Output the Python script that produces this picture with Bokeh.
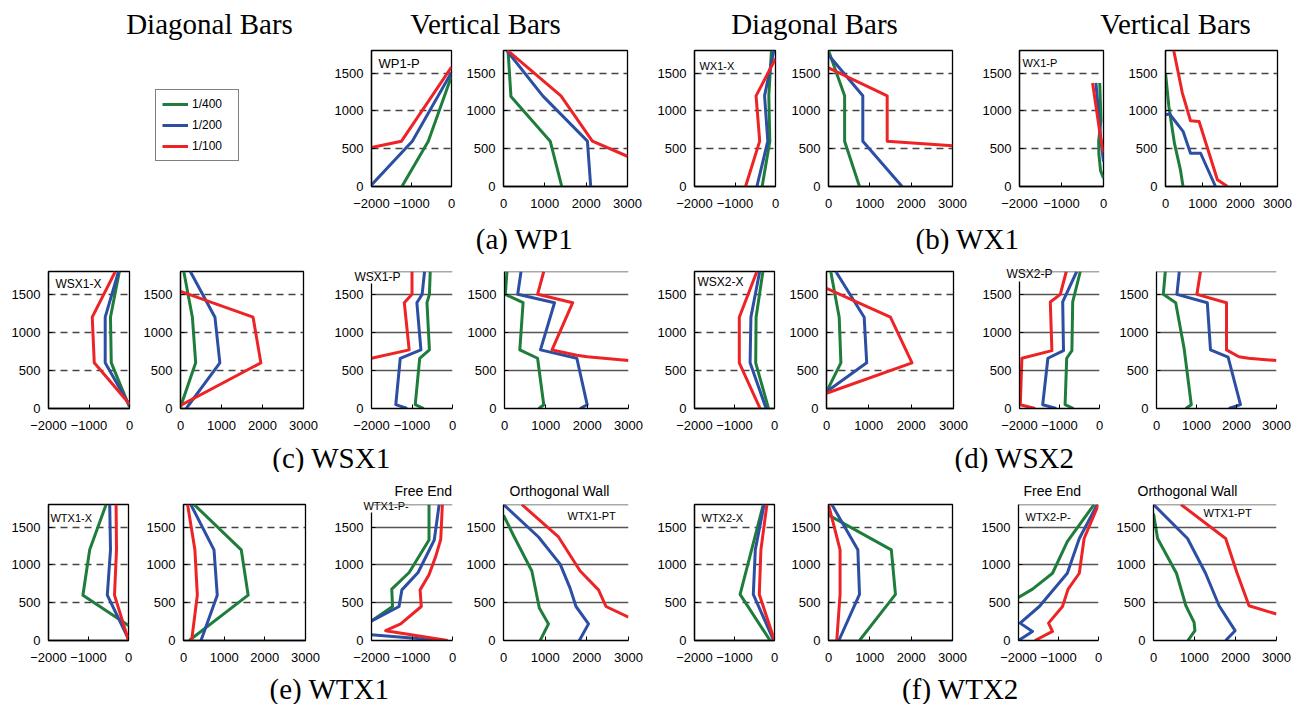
from bokeh.plotting import figure
from bokeh.layouts import row, column
from bokeh.models import Range1d, FixedTicker, Label, Span, Legend, LegendItem
from bokeh.embed import file_html
from bokeh.resources import INLINE

# ---------------- data (x value, height) ----------------
SERIES = ["1/400", "1/200", "1/100"]
DIAG_TICKS = [-2000, -1000, 0]
VERT_TICKS = [0, 1000, 2000, 3000]
HEIGHT_TICKS = [0, 500, 1000, 1500]
GRID_LEVELS = [500, 1000, 1500]

# (a) WP1
WP1_P_400 = [(-1240, 0), (-580, 600), (0, 1460)]
WP1_P_200 = [(-2000, 20), (-980, 600), (0, 1510)]
WP1_P_100 = [(-2000, 515), (-1250, 600), (0, 1580)]
WP1_V_400 = [(1410, 0), (1130, 600), (180, 1190), (110, 1800)]
WP1_V_200 = [(2110, 0), (2030, 600), (950, 1200), (80, 1800)]
WP1_V_100 = [(3000, 400), (2150, 600), (1390, 1200), (100, 1800)]
# (b) WX1
WX1_X_400 = [(-330, 0), (-140, 600), (-165, 1200), (-100, 1800)]
WX1_X_200 = [(-460, 0), (-190, 600), (-270, 1200), (-40, 1800)]
WX1_X_100 = [(-740, 0), (-390, 600), (-480, 1200), (0, 1690)]
WX1_V_400 = [(750, 0), (390, 600), (390, 1200), (0, 1800)]
WX1_V_200 = [(1780, 0), (830, 600), (830, 1200), (0, 1740)]
WX1_V_100 = [(3000, 540), (1420, 600), (1420, 1200), (0, 1570)]
WX1_P_400 = [(0, 110), (-70, 210), (-110, 430), (-115, 600), (-60, 880), (-90, 1370)]
WX1_P_200 = [(0, 330), (-60, 600), (-180, 1370)]
WX1_P_100 = [(0, 450), (-70, 650), (-260, 1370)]
WX1_PV_400 = [(470, 0), (400, 220), (240, 570), (90, 1060), (0, 1500)]
WX1_PV_200 = [(1340, 0), (940, 440), (670, 440), (470, 730), (110, 960), (0, 950)]
WX1_PV_100 = [(1660, 0), (1390, 90), (900, 860), (670, 870), (450, 1240), (220, 1800)]
# (c) WSX1
WSX1_X_400 = [(0, 20), (-450, 600), (-470, 1200), (-250, 1800)]
WSX1_X_200 = [(0, 40), (-600, 600), (-600, 1200), (-270, 1800)]
WSX1_X_100 = [(0, 60), (-870, 600), (-920, 1200), (-350, 1800)]
WSX1_V_400 = [(0, 20), (370, 600), (290, 1200), (80, 1800)]
WSX1_V_200 = [(140, 0), (960, 600), (840, 1200), (240, 1800)]
WSX1_V_100 = [(0, 40), (1960, 600), (1770, 1200), (0, 1540)]
WSX1_P_400 = [(-710, 0), (-920, 50), (-810, 660), (-570, 770), (-630, 1390), (-570, 1500), (-550, 1800)]
WSX1_P_200 = [(-1120, 0), (-1400, 50), (-1290, 660), (-780, 770), (-880, 1390), (-750, 1500), (-690, 1800)]
WSX1_P_100 = [(-2000, 660), (-1070, 770), (-1190, 1390), (-1000, 1500), (-1000, 1800)]
WSX1_PV_400 = [(830, 0), (950, 50), (800, 660), (370, 770), (450, 1390), (20, 1500), (60, 1800)]
WSX1_PV_200 = [(1830, 0), (2000, 50), (1750, 660), (870, 770), (1210, 1390), (320, 1500), (400, 1800)]
WSX1_PV_100 = [(3000, 630), (2000, 680), (1750, 700), (1150, 770), (1650, 1390), (800, 1500), (950, 1800)]
# (d) WSX2
WSX2_X_400 = [(-150, 0), (-470, 600), (-460, 1200), (-290, 1800)]
WSX2_X_200 = [(-210, 0), (-610, 600), (-590, 1200), (-370, 1800)]
WSX2_X_100 = [(-360, 0), (-880, 600), (-880, 1200), (-440, 1800)]
WSX2_V_400 = [(0, 220), (340, 600), (300, 1200), (100, 1800)]
WSX2_V_200 = [(0, 220), (950, 600), (890, 1200), (220, 1800)]
WSX2_V_100 = [(0, 200), (2020, 600), (1510, 1200), (0, 1580)]
WSX2_P_400 = [(-650, 0), (-860, 50), (-820, 660), (-690, 760), (-670, 1400), (-480, 1800)]
WSX2_P_200 = [(-1080, 0), (-1420, 50), (-1290, 660), (-900, 760), (-920, 1400), (-570, 1800)]
WSX2_P_100 = [(-1610, 0), (-1980, 50), (-1940, 660), (-1190, 760), (-1230, 1400), (-980, 1500), (-830, 1800)]
WSX2_PV_400 = [(730, 0), (870, 50), (690, 790), (480, 1390), (170, 1500), (220, 1800)]
WSX2_PV_200 = [(1810, 0), (2100, 50), (1790, 675), (1350, 770), (1270, 1390), (510, 1500), (570, 1800)]
WSX2_PV_100 = [(3000, 630), (2300, 660), (2060, 680), (1750, 770), (1750, 1390), (1010, 1500), (1100, 1800)]
# (e) WTX1
WTX1_X_400 = [(0, 200), (-1140, 600), (-970, 1200), (-560, 1800)]
WTX1_X_200 = [(0, 20), (-530, 600), (-450, 1200), (-470, 1800)]
WTX1_X_100 = [(0, 0), (-350, 600), (-300, 1200), (-310, 1800)]
WTX1_V_400 = [(140, 0), (1590, 600), (1420, 1200), (260, 1800)]
WTX1_V_200 = [(430, 0), (830, 600), (750, 1200), (180, 1800)]
WTX1_V_100 = [(200, 0), (340, 600), (280, 1200), (100, 1800)]
WTX1_P_400 = [(-2300, 150), (-1480, 450), (-1500, 680), (-1070, 900), (-580, 1330), (-580, 1800)]
WTX1_P_200 = [(-250, 0), (-2300, 90), (-2100, 230), (-1320, 450), (-1250, 670), (-850, 900), (-450, 1330), (-330, 1800)]
WTX1_P_100 = [(-120, 0), (-1650, 130), (-1280, 220), (-770, 450), (-800, 670), (-580, 870), (-410, 1120), (-290, 1340), (-250, 1800)]
WTX1_PT_400 = [(880, 0), (1080, 220), (860, 430), (680, 920), (240, 1390), (0, 1660)]
WTX1_PT_200 = [(1820, 0), (2040, 220), (1740, 450), (1600, 690), (1360, 1010), (840, 1370), (0, 1800)]
WTX1_PT_100 = [(3000, 310), (2460, 450), (2280, 670), (1840, 920), (1320, 1370), (440, 1800)]
# (f) WTX2
WTX2_X_400 = [(-110, 0), (-860, 610), (-280, 1800)]
WTX2_X_200 = [(-20, 0), (-530, 610), (-480, 1200), (-260, 1800)]
WTX2_X_100 = [(0, 0), (-380, 610), (-340, 1200), (-190, 1800)]
WTX2_V_400 = [(750, 0), (1620, 610), (1520, 1200), (0, 1660)]
WTX2_V_200 = [(250, 0), (750, 610), (710, 1200), (80, 1800)]
WTX2_V_100 = [(200, 0), (280, 610), (280, 1200), (0, 1800)]
WTX2_P_400 = [(-2100, 540), (-1650, 680), (-1150, 890), (-780, 1310), (-110, 1800)]
WTX2_P_200 = [(-2000, 0), (-1650, 120), (-1960, 230), (-1480, 450), (-780, 890), (-480, 1350), (-30, 1800)]
WTX2_P_100 = [(-1590, 0), (-1150, 120), (-1250, 230), (-900, 450), (-760, 680), (-480, 890), (-360, 1350), (0, 1800)]
WTX2_PT_400 = [(840, 0), (1010, 130), (990, 240), (790, 460), (560, 890), (100, 1350), (0, 1680)]
WTX2_PT_200 = [(1760, 0), (1990, 130), (1600, 460), (1270, 890), (830, 1350), (0, 1800)]
WTX2_PT_100 = [(3000, 350), (2330, 460), (2040, 890), (1760, 1350), (670, 1800)]

HEADERS = ["Diagonal Bars", "Vertical Bars", "Diagonal Bars", "Vertical Bars"]
CAPTIONS = ["(a) WP1", "(b) WX1", "(c) WSX1", "(d) WSX2", "(e) WTX1", "(f) WTX2"]
SUBTITLES = ["Free End", "Orthogonal Wall", "Free End", "Orthogonal Wall"]

# ---------------- styling ----------------
COLORS = ["#1f7d3c", "#2c4ea3", "#ee2326"]
TICK_FONT = "Liberation Sans"
SERIF = "Liberation Serif"
MINUS = {-2000: "\u22122000", -1000: "\u22121000"}
CAP_SIZE = "29px"


def make_label(text, pos, size, bg):
    lab = Label(x=pos[0], y=pos[1], text=text, text_font=TICK_FONT, text_font_size=size,
                text_baseline="middle", text_align="left", text_color="black")
    if bg:
        lab.background_fill_color = "white"
    return lab


def panel(data, kind, style, L, W, R, geom, labels=()):
    top, fh, bottom = geom
    xr = Range1d(-2000, 0) if kind == "diag" else Range1d(0, 3000)
    p = figure(width=L + W + R, height=top + fh + bottom, x_range=xr, y_range=Range1d(0, 1800),
               output_backend="svg", toolbar_location=None,
               min_border_left=L, min_border_right=R, min_border_top=top, min_border_bottom=bottom)
    p.xaxis.ticker = FixedTicker(ticks=DIAG_TICKS if kind == "diag" else VERT_TICKS)
    p.yaxis.ticker = FixedTicker(ticks=HEIGHT_TICKS)
    if kind == "diag":
        p.xaxis.major_label_overrides = MINUS
    for ax in (p.xaxis[0], p.yaxis[0]):
        ax.major_label_text_font = TICK_FONT
        ax.major_label_text_font_size = "13px"
        ax.major_label_text_color = "black"
        ax.axis_line_color = "black"
        ax.axis_line_width = 1.3
        ax.major_tick_line_color = "black"
        ax.major_tick_in = 4
        ax.major_tick_out = 0
        ax.minor_tick_line_color = None
    p.xaxis.major_label_standoff = 12
    p.yaxis.major_label_standoff = 8
    p.xgrid.visible = False
    p.ygrid.ticker = FixedTicker(ticks=GRID_LEVELS)
    if style == "box":
        p.ygrid.grid_line_color = "#444444"
        p.ygrid.grid_line_width = 1.3
        p.ygrid.grid_line_dash = "7 5"
        p.outline_line_color = "black"
        p.outline_line_width = 1.3
        p.outline_line_alpha = 1
    else:
        p.ygrid.grid_line_color = "#555555"
        p.ygrid.grid_line_width = 1.4
        p.outline_line_color = None
        p.add_layout(Span(location=1800, dimension="width", line_color="#555555", line_width=1.4))
    for pts, c in zip(data, COLORS):
        p.line([q[0] for q in pts], [q[1] for q in pts], line_color=c, line_width=3, line_join="round")
    for (text, pos, size, bg, place) in labels:
        lab = make_label(text, pos, size, bg)
        if place == "center":
            p.add_layout(lab)
        else:
            p.add_layout(lab, place)
    return p


def text_fig(width, height, page_top, items):
    p = figure(width=width, height=height, x_range=Range1d(8, 8 + width),
               y_range=Range1d(page_top + height, page_top), x_axis_type=None, y_axis_type=None,
               output_backend="svg", toolbar_location=None, min_border=0, outline_line_color=None)
    for (txt, x, y, font, size) in items:
        p.add_layout(Label(x=x, y=y, text=txt, text_font=font, text_font_size=size,
                           text_align="center", text_baseline="middle", text_color="black"))
    return p


G1 = (10, 136, 29)
G2 = (17, 137, 28)
G3 = (32, 136, 28)

# legend figure
leg_fig = figure(width=318, height=175, x_range=Range1d(0, 1), y_range=Range1d(0, 1),
                 x_axis_type=None, y_axis_type=None, output_backend="svg", toolbar_location=None,
                 min_border=0, outline_line_color=None)
items = []
for name, c in zip(SERIES, COLORS):
    r = leg_fig.line(x=[-5], y=[-5], line_color=c, line_width=3)
    items.append(LegendItem(label=name, renderers=[r]))
leg = Legend(items=items, location=(147, 25), border_line_color="black", border_line_width=1.2,
             padding=6, spacing=5, glyph_width=26, glyph_height=16, label_height=16, label_width=40,
             label_standoff=4, label_text_font=TICK_FONT, label_text_font_size="12px",
             label_text_color="black", margin=0)
leg_fig.add_layout(leg)

row1 = row(
    leg_fig,
    panel([WP1_P_400, WP1_P_200, WP1_P_100], "diag", "box", 45, 80, 6, G1,
          [("WP1-P", (-1825, 1628), "13px", False, "center")]),
    panel([WP1_V_400, WP1_V_200, WP1_V_100], "vert", "box", 46, 124, 16, G1),
    panel([WX1_X_400, WX1_X_200, WX1_X_100], "diag", "box", 51, 81, 6, G1,
          [("WX1-X", (-1877, 1601), "11px", False, "center")]),
    panel([WX1_V_400, WX1_V_200, WX1_V_100], "vert", "box", 47, 124, 16, G1),
    panel([WX1_P_400, WX1_P_200, WX1_P_100], "diag", "box", 51, 84, 6, G1,
          [("WX1-P", (-1929, 1628), "11px", False, "center")]),
    panel([WX1_PV_400, WX1_PV_200, WX1_PV_100], "vert", "box", 56, 112, 15, G1),
)
row2 = row(
    panel([WSX1_X_400, WSX1_X_200, WSX1_X_100], "diag", "box", 40, 81, 6, G2,
          [("WSX1-X", (-1827, 1642), "12px", False, "center")]),
    panel([WSX1_V_400, WSX1_V_200, WSX1_V_100], "vert", "box", 45, 123, 16, G2),
    panel([WSX1_P_400, WSX1_P_200, WSX1_P_100], "diag", "open", 52, 81, 6, G2,
          [("WSX1-P", (-2420, 1734), "12px", True, "above")]),
    panel([WSX1_PV_400, WSX1_PV_200, WSX1_PV_100], "vert", "open", 46, 124, 16, G2),
    panel([WSX2_X_400, WSX2_X_200, WSX2_X_100], "diag", "box", 50, 80, 6, G2,
          [("WSX2-X", (-1925, 1668), "12px", False, "center")]),
    panel([WSX2_V_400, WSX2_V_200, WSX2_V_100], "vert", "box", 46, 127, 16, G2),
    panel([WSX2_P_400, WSX2_P_200, WSX2_P_100], "diag", "open", 50, 80, 6, G2,
          [("WSX2-P", (-2325, 1761), "12px", True, "above")]),
    panel([WSX2_PV_400, WSX2_PV_200, WSX2_PV_100], "vert", "open", 51, 120, 16, G2),
)
row3 = row(
    panel([WTX1_X_400, WTX1_X_200, WTX1_X_100], "diag", "box", 39, 81, 6, G3,
          [("WTX1-X", (-1951, 1615), "11px", False, "center")]),
    panel([WTX1_V_400, WTX1_V_200, WTX1_V_100], "vert", "box", 49, 122, 16, G3),
    panel([WTX1_P_400, WTX1_P_200, WTX1_P_100], "diag", "open", 50, 81, 6, G3,
          [("WTX1-P-", (-2198, 1774), "11px", True, "above"),
           (SUBTITLES[0], (-1432, 1985), "14px", False, "above")]),
    panel([WTX1_PT_400, WTX1_PT_200, WTX1_PT_100], "vert", "open", 45, 125, 16, G3,
          [("WTX1-PT", (1536, 1654), "11px", False, "center"),
           (SUBTITLES[1], (144, 1985), "14px", False, "above")]),
    panel([WTX2_X_400, WTX2_X_200, WTX2_X_100], "diag", "box", 50, 80, 6, G3,
          [("WTX2-X", (-1825, 1615), "11px", False, "center")]),
    panel([WTX2_V_400, WTX2_V_200, WTX2_V_100], "vert", "box", 48, 124, 16, G3),
    panel([WTX2_P_400, WTX2_P_200, WTX2_P_100], "diag", "open", 50, 80, 6, G3,
          [("WTX2-P-", (-1825, 1628), "11px", True, "center"),
           (SUBTITLES[2], (-1875, 1985), "14px", False, "above")]),
    panel([WTX2_PT_400, WTX2_PT_200, WTX2_PT_100], "vert", "open", 49, 123, 16, G3,
          [("WTX1-PT", (1220, 1681), "11px", False, "center"),
           (SUBTITLES[3], (-390, 1985), "14px", False, "above")]),
)

header = text_fig(1284, 32, 8, [
    (HEADERS[0], 209, 23, SERIF, "29px"), (HEADERS[1], 485, 23, SERIF, "29px"),
    (HEADERS[2], 814, 23, SERIF, "29px"), (HEADERS[3], 1175, 23, SERIF, "29px")])
cap1 = text_fig(1284, 39, 215, [(CAPTIONS[0], 524, 238, SERIF, CAP_SIZE), (CAPTIONS[1], 967, 238, SERIF, CAP_SIZE)])
cap2 = text_fig(1284, 36, 436, [(CAPTIONS[2], 331, 457, SERIF, CAP_SIZE), (CAPTIONS[3], 1014, 457, SERIF, CAP_SIZE)])
cap3 = text_fig(1284, 36, 668, [(CAPTIONS[4], 329, 688, SERIF, CAP_SIZE), (CAPTIONS[5], 960, 688, SERIF, CAP_SIZE)])

layout = column(header, row1, cap1, row2, cap2, row3, cap3, margin=(8, 0, 0, 8))
open("out.html", "w").write(file_html(layout, INLINE))
